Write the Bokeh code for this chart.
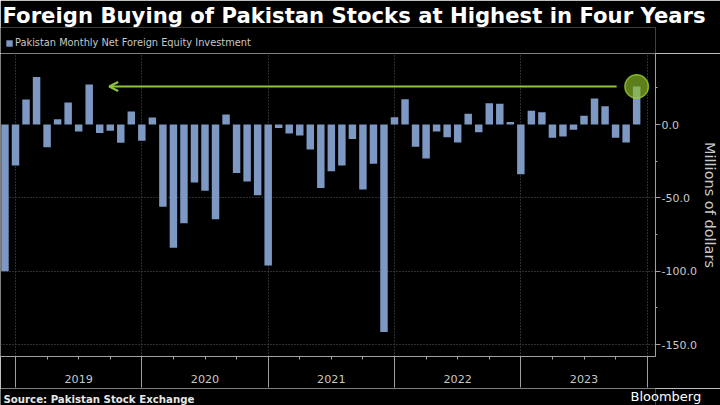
from bokeh.plotting import figure
from bokeh.layouts import column
from bokeh.models import (FixedTicker, ColumnDataSource, Arrow, OpenHead, Legend, LegendItem,
                          Range1d, PrintfTickFormatter, LinearAxis, Label, Title)
from bokeh.embed import file_html
from bokeh.resources import INLINE

# ---------------- data ----------------
title_text = "Foreign Buying of Pakistan Stocks at Highest in Four Years"
series_name = "Pakistan Monthly Net Foreign Equity Investment"
source_text = "Source: Pakistan Stock Exchange"
y_title = "Millions of dollars"
brand_text = "Bloomberg"

years = ["2019", "2020", "2021", "2022", "2023"]

net_2018 = [-100.0]  # December 2018
net_2019 = [-28.0, 17.0, 32.3, -15.5, 3.6, 15.0, -4.8, 27.3, -5.7, -4.3, -12.5, 8.9]
net_2020 = [-11.0, 4.8, -56.0, -84.0, -67.3, -39.5, -45.2, -64.5, 6.8, -33.0, -38.9, -48.2]
net_2021 = [-96.1, -2.3, -6.1, -7.5, -17.0, -43.2, -31.8, -28.0, -9.8, -44.3, -26.8, -141.4]
net_2022 = [5.0, 17.3, -15.2, -23.2, -4.8, -8.6, -12.3, 7.3, -5.2, 14.5, 14.1, 1.8]
net_2023 = [-33.9, 9.3, 8.4, -9.1, -8.2, -3.6, 5.9, 17.7, 12.5, -9.1, -12.3, 25.9]

y_major = [-150, -100, -50, 0]
y_minor = [-125, -75, -25, 25]

# ---------------- derived ----------------
values = net_2018 + net_2019 + net_2020 + net_2021 + net_2022 + net_2023
month_labels = ["2018-12"] + [f"{y}-{m:02d}" for y in years for m in range(1, 13)]
# x position: months since January 2019 (bar centred on the first of its month)
xpos = [i - 1 for i in range(len(values))]

year_bounds = [12 * k for k in range(len(years) + 1)]
quarter_ticks = [12 * k + q for k in range(len(years)) for q in (3, 6, 9)]
year_mid = [12 * k + 6 for k in range(len(years))]

src = ColumnDataSource(dict(x=xpos, v=values, month=month_labels))

# ---------------- style ----------------
BG = "#000000"
BAR = "#7d98c3"
GRID = "#5c5c5c"
AXIS = "#a0a0a0"
TXT = "#c8c8c8"
GREEN = "#8cc63e"
FONT = "DejaVu Sans"
W = 720
HEAD_H, FOOT_H = 53, 17
MAIN_H = 405 - HEAD_H - FOOT_H


def blank(height, y_end=1, **kw):
    f = figure(width=W, height=height, title=None, output_backend="svg", toolbar_location=None,
               x_axis_location=None, x_range=Range1d(0, 1), y_range=Range1d(0, y_end),
               background_fill_color=BG, border_fill_color=BG, outline_line_color=None,
               min_border_left=0, min_border_right=0, min_border_top=0, min_border_bottom=0,
               **kw)
    for g in f.xgrid + f.ygrid:
        g.visible = False
        g.grid_line_color = None
    f.center = []  # no grids in the text-only panels
    return f


# ---------------- header: title + legend ----------------
head = blank(HEAD_H, y_axis_location=None)
# series swatch for the legend (data lies outside this panel's view)
head.y_range = Range1d(1000, 1001)
swatch = head.vbar(x="x", top="v", bottom=0, width=0.71, source=src,
                   fill_color=BAR, line_color=None)
head.add_layout(Title(text=title_text, align="left", offset=2, standoff=0,
                      text_color="#ffffff", text_font=FONT, text_font_style="bold",
                      text_font_size="21.2px"), "above")
head.add_layout(Legend(items=[LegendItem(label=series_name, renderers=[swatch])],
                       location="bottom_left", orientation="horizontal",
                       background_fill_alpha=0, border_line_alpha=0, padding=0, margin=5,
                       spacing=0, glyph_width=8, glyph_height=8, label_standoff=2,
                       label_height=8, label_text_font=FONT, label_text_font_size="9.8px",
                       label_text_color=TXT))

# ---------------- main chart ----------------
p = figure(width=W, height=MAIN_H, title=None,
           x_range=Range1d(-1.425, 60.79), y_range=Range1d(-158.1, 48.4),
           y_axis_location="right", output_backend="svg", toolbar_location=None,
           background_fill_color=BG, border_fill_color=BG, outline_line_color=None,
           min_border_left=0, min_border_right=65, min_border_top=0, min_border_bottom=32)

bars = p.vbar(x="x", top="v", bottom=0, width=0.71, source=src,
              fill_color=BAR, line_color=None)

p.xgrid.ticker = FixedTicker(ticks=year_bounds)
p.ygrid.ticker = FixedTicker(ticks=[t for t in y_major if t != 0])
for g in (p.xgrid, p.ygrid):
    g.grid_line_color = GRID
    g.grid_line_dash = "1 2"
    g.grid_line_width = 1

# x axis A: axis line + short ticks at quarters / year starts
xa = p.xaxis[0]
xa.ticker = FixedTicker(ticks=year_bounds, minor_ticks=quarter_ticks)
xa.major_label_overrides = {b: "" for b in year_bounds}
xa.major_label_text_font_size = "0px"
xa.major_label_standoff = 0
xa.major_tick_in = 0
xa.major_tick_out = 3
xa.minor_tick_in = 0
xa.minor_tick_out = 3
xa.axis_line_color = AXIS
xa.major_tick_line_color = AXIS
xa.minor_tick_line_color = AXIS

# x axis B: year dividers (long ticks) and year labels
xb = LinearAxis(ticker=FixedTicker(ticks=year_mid, minor_ticks=year_bounds),
                major_label_overrides={m: t for m, t in zip(year_mid, years)},
                axis_line_color=None, major_tick_line_color=None,
                major_tick_in=0, major_tick_out=0,
                minor_tick_in=3, minor_tick_out=28, minor_tick_line_color=AXIS,
                major_label_standoff=-13, major_label_text_color=TXT,
                major_label_text_font=FONT, major_label_text_font_size="11.2px")
p.add_layout(xb, "below")

ya = p.yaxis[0]
ya.ticker = FixedTicker(ticks=y_major, minor_ticks=y_minor)
ya.formatter = PrintfTickFormatter(format="%.1f")
ya.major_tick_in = 0
ya.major_tick_out = 5
ya.minor_tick_in = 0
ya.minor_tick_out = 2
ya.axis_line_color = AXIS
ya.major_tick_line_color = AXIS
ya.minor_tick_line_color = AXIS
ya.major_label_text_color = TXT
ya.major_label_text_font = FONT
ya.major_label_text_font_size = "11px"
ya.major_label_standoff = 1
ya.axis_label = y_title
ya.axis_label_text_color = TXT
ya.axis_label_text_font = FONT
ya.axis_label_text_font_size = "14.5px"
ya.axis_label_text_font_style = "normal"
ya.axis_label_standoff = 2

last_x, last_v = xpos[-1], values[-1]
ref_x = xpos[month_labels.index("2019-08")]
p.add_layout(Arrow(end=OpenHead(size=9, line_color=GREEN, line_width=2),
                   x_start=last_x - 1.9, y_start=last_v, x_end=ref_x + 1.9, y_end=last_v,
                   line_color=GREEN, line_width=2))
p.scatter(x=[last_x], y=[last_v], marker="circle", size=23.5,
          fill_color="#8fc22a", fill_alpha=0.65, line_color="#9acd32", line_alpha=0.8,
          line_width=1.5)

# ---------------- footer: source (left) + brand (right) ----------------
foot = blank(FOOT_H, y_end=FOOT_H, y_axis_location="right")
foot.add_layout(Label(x=3, y=6.3, x_units="screen", y_units="screen", text=source_text,
                      text_color="#e6e6e6", text_font=FONT, text_font_style="bold",
                      text_font_size="10.2px", text_baseline="alphabetic"))
fy = foot.yaxis[0]
fy.ticker = FixedTicker(ticks=[10])
fy.major_label_overrides = {10: brand_text}
fy.axis_line_color = None
fy.major_tick_line_color = None
fy.minor_tick_line_color = None
fy.major_tick_in = 0
fy.major_tick_out = 0
fy.minor_tick_in = 0
fy.minor_tick_out = 0
fy.major_label_standoff = -25
fy.major_label_text_color = "#ffffff"
fy.major_label_text_font = FONT
fy.major_label_text_font_size = "13px"

layout = column(head, p, foot, spacing=0)
open("out.html", "w").write(file_html(layout, INLINE))
